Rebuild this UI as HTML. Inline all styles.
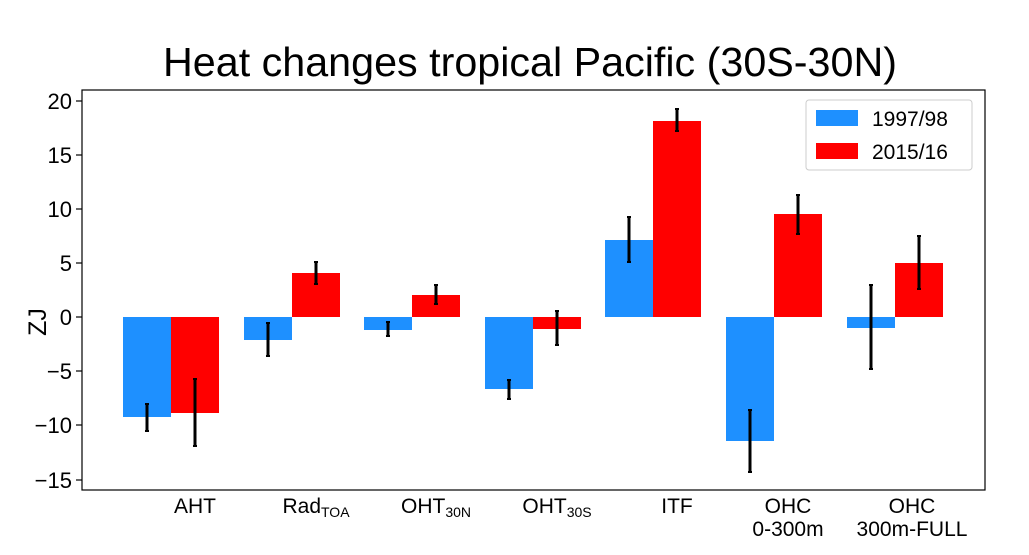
<!DOCTYPE html>
<html><head><meta charset="utf-8"><style>
body{margin:0;background:#fff;}
svg{display:block;font-family:"Liberation Sans","DejaVu Sans",sans-serif;}
</style></head><body>
<svg width="1029" height="555" viewBox="0 0 1029 555">
<rect width="1029" height="555" fill="#fff"/>
<text x="530" y="76" font-size="41" text-anchor="middle" fill="#000" textLength="734" lengthAdjust="spacingAndGlyphs">Heat changes tropical Pacific (30S-30N)</text>
<g fill="#1e90ff">
<rect x="123" y="317" width="48" height="100"/>
<rect x="244" y="317" width="48" height="23"/>
<rect x="364" y="317" width="48" height="13"/>
<rect x="485" y="317" width="48" height="72"/>
<rect x="605" y="240" width="48" height="77"/>
<rect x="726" y="317" width="48" height="124"/>
<rect x="847" y="317" width="48" height="11"/>
</g>
<g fill="#ff0000">
<rect x="171" y="317" width="48" height="96"/>
<rect x="292" y="273" width="48" height="44"/>
<rect x="412" y="295" width="48" height="22"/>
<rect x="533" y="317" width="48" height="12"/>
<rect x="653" y="121" width="48" height="196"/>
<rect x="774" y="214" width="48" height="103"/>
<rect x="895" y="263" width="48" height="54"/>
</g>
<g stroke="#000" stroke-width="3">
<line x1="147" y1="404" x2="147" y2="431"/><line x1="195" y1="379" x2="195" y2="446"/>
<line x1="268" y1="323" x2="268" y2="356"/><line x1="316" y1="262" x2="316" y2="284"/>
<line x1="388" y1="322" x2="388" y2="336"/><line x1="436" y1="285" x2="436" y2="304"/>
<line x1="509" y1="380" x2="509" y2="399"/><line x1="557" y1="311" x2="557" y2="345"/>
<line x1="629" y1="217" x2="629" y2="262"/><line x1="677" y1="109" x2="677" y2="131"/>
<line x1="750" y1="410" x2="750" y2="472"/><line x1="798" y1="195" x2="798" y2="234"/>
<line x1="871" y1="285" x2="871" y2="369"/><line x1="919" y1="236" x2="919" y2="289"/>
</g>
<g stroke="#000" stroke-width="2">
<line x1="145" y1="404" x2="149" y2="404"/><line x1="145" y1="431" x2="149" y2="431"/>
<line x1="193" y1="379" x2="197" y2="379"/><line x1="193" y1="446" x2="197" y2="446"/>
<line x1="266" y1="323" x2="270" y2="323"/><line x1="266" y1="356" x2="270" y2="356"/>
<line x1="314" y1="262" x2="318" y2="262"/><line x1="314" y1="284" x2="318" y2="284"/>
<line x1="386" y1="322" x2="390" y2="322"/><line x1="386" y1="336" x2="390" y2="336"/>
<line x1="434" y1="285" x2="438" y2="285"/><line x1="434" y1="304" x2="438" y2="304"/>
<line x1="507" y1="380" x2="511" y2="380"/><line x1="507" y1="399" x2="511" y2="399"/>
<line x1="555" y1="311" x2="559" y2="311"/><line x1="555" y1="345" x2="559" y2="345"/>
<line x1="627" y1="217" x2="631" y2="217"/><line x1="627" y1="262" x2="631" y2="262"/>
<line x1="675" y1="109" x2="679" y2="109"/><line x1="675" y1="131" x2="679" y2="131"/>
<line x1="748" y1="410" x2="752" y2="410"/><line x1="748" y1="472" x2="752" y2="472"/>
<line x1="796" y1="195" x2="800" y2="195"/><line x1="796" y1="234" x2="800" y2="234"/>
<line x1="869" y1="285" x2="873" y2="285"/><line x1="869" y1="369" x2="873" y2="369"/>
<line x1="917" y1="236" x2="921" y2="236"/><line x1="917" y1="289" x2="921" y2="289"/>
</g>
<rect x="82" y="90" width="903" height="400" fill="none" stroke="#000" stroke-width="1.2"/>
<g stroke="#000" stroke-width="1.2">
<line x1="76" y1="101" x2="82" y2="101"/><line x1="76" y1="155" x2="82" y2="155"/>
<line x1="76" y1="209" x2="82" y2="209"/><line x1="76" y1="263" x2="82" y2="263"/>
<line x1="76" y1="317" x2="82" y2="317"/><line x1="76" y1="371" x2="82" y2="371"/>
<line x1="76" y1="425" x2="82" y2="425"/><line x1="76" y1="480" x2="82" y2="480"/>
</g>
<g font-size="22" text-anchor="end" fill="#000">
<text x="72" y="109">20</text><text x="72" y="163">15</text><text x="72" y="217">10</text>
<text x="72" y="271">5</text><text x="72" y="325">0</text><text x="72" y="379">−5</text>
<text x="72" y="433">−10</text><text x="72" y="488">−15</text>
</g>
<text transform="translate(46,322) rotate(-90)" font-size="25" text-anchor="middle">ZJ</text>
<g font-size="21" text-anchor="middle" fill="#000">
<text x="195" y="513">AHT</text>
<text x="316" y="513">Rad<tspan font-size="14" dy="4">TOA</tspan></text>
<text x="436" y="513">OHT<tspan font-size="14" dy="4">30N</tspan></text>
<text x="557" y="513">OHT<tspan font-size="14" dy="4">30S</tspan></text>
<text x="677" y="513">ITF</text>
<text x="788" y="513">OHC</text><text x="788" y="536">0-300m</text>
<text x="912" y="513">OHC</text><text x="912" y="536">300m-FULL</text>
</g>
<rect x="806" y="100" width="166" height="70" rx="3" fill="#fff" stroke="#ccc"/>
<rect x="816" y="110" width="42" height="16" fill="#1e90ff"/>
<rect x="816" y="143" width="42" height="16" fill="#ff0000"/>
<text x="872" y="126" font-size="21">1997/98</text>
<text x="872" y="159" font-size="21">2015/16</text>
</svg>
</body></html>
